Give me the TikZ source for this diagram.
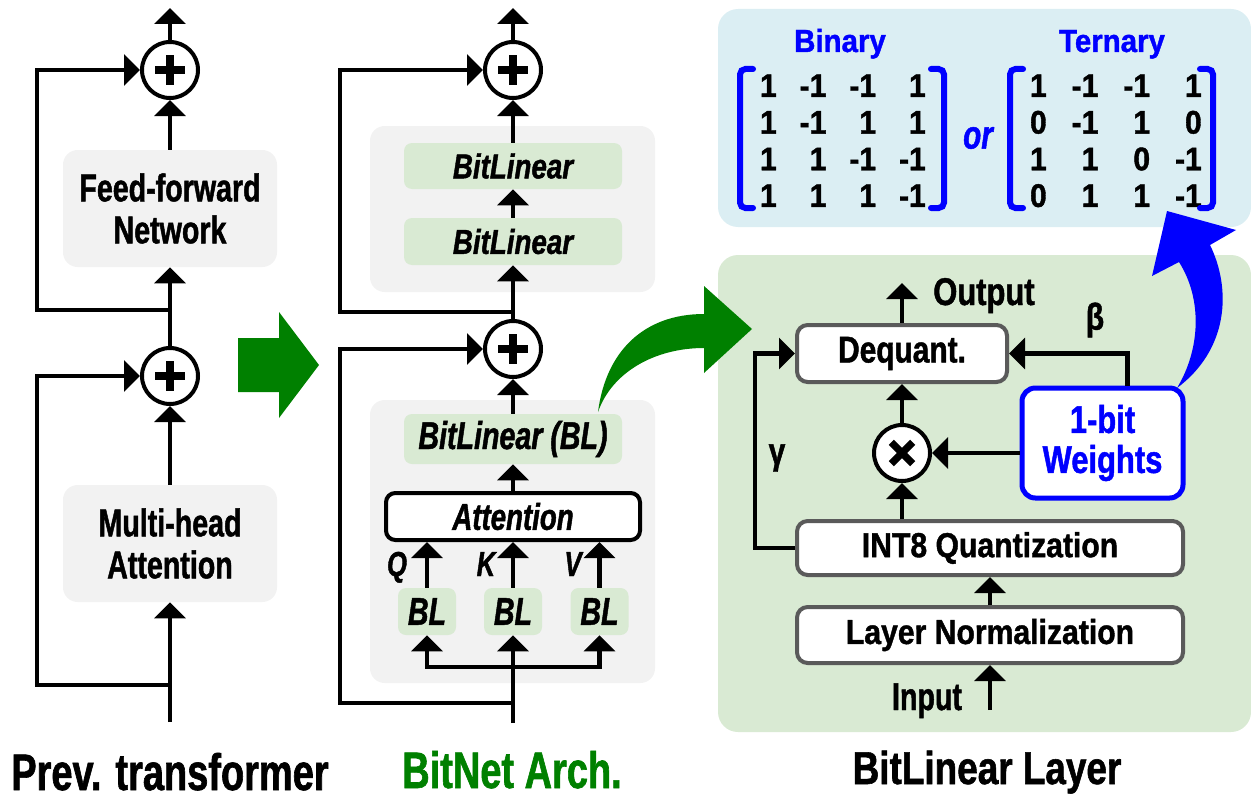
\documentclass[tikz,border=0pt]{standalone}
\usepackage{fontspec}
\usepackage{array}
\setmainfont{Liberation Sans}
\newfontfamily\fa{Liberation Sans}[FakeStretch=0.74,FakeBold=1.2]
\newfontfamily\fb{Liberation Sans}[FakeStretch=0.80,FakeBold=1.2]
\newfontfamily\fc{Liberation Sans}[FakeStretch=0.87,FakeBold=1.2]
\newfontfamily\fd{Liberation Sans}[FakeStretch=0.92,FakeBold=1.2]
\usetikzlibrary{arrows.meta,fit,calc}
\definecolor{lgrey}{HTML}{F2F2F2}
\definecolor{lgreen}{HTML}{D9EAD3}
\definecolor{lblue}{HTML}{DBEEF3}
\definecolor{dgreen}{HTML}{008000}
\definecolor{bblue}{HTML}{0000FF}
\definecolor{bordergrey}{HTML}{5A5A5A}
\newcommand\fsz[2]{\fontsize{#1}{#2}\selectfont}
\begin{document}
\begin{tikzpicture}[x=0.75pt,y=-0.75pt,
  arr/.style={line width=3.7pt,-{Triangle[width=23pt,length=12pt]}},
  greybg/.style={fill=lgrey, rounded corners=11pt, inner sep=0pt},
  greenbox/.style={fill=lgreen, rounded corners=6pt, inner sep=0pt},
  wbox/.style={draw=bordergrey, line width=3pt, fill=white, rounded corners=8pt, inner sep=0pt,
    font=\fc\bfseries\fsz{26}{28}},
  sumnode/.style={circle, draw, line width=3pt, fill=white, minimum size=42pt, inner sep=0pt},
  plus/.style={path picture={
    \draw[line width=6.5pt] ([xshift=-11pt]path picture bounding box.center) -- ([xshift=11pt]path picture bounding box.center);
    \draw[line width=6.5pt] ([yshift=-11pt]path picture bounding box.center) -- ([yshift=11pt]path picture bounding box.center);}},
  times/.style={path picture={
    \draw[line width=5.5pt] ([shift={(-8pt,-8pt)}]path picture bounding box.center) -- ([shift={(8pt,8pt)}]path picture bounding box.center);
    \draw[line width=5.5pt] ([shift={(-8pt,8pt)}]path picture bounding box.center) -- ([shift={(8pt,-8pt)}]path picture bounding box.center);}},
  lefttxt/.style={font=\fa\bfseries\fsz{29}{31.5}, align=center, minimum width=160.5pt, minimum height=87.75pt},
  bltxt/.style={font=\fb\bfseries\itshape\fsz{26}{28}, minimum width=163.5pt},
  smallbl/.style={greenbox, font=\fa\bfseries\itshape\fsz{29}{31}, minimum width=43.5pt, minimum height=35.25pt},
  brk/.style={draw=bblue, line width=4.5pt, rounded corners=4pt, line cap=round},
  title/.style={anchor=base, inner sep=0pt}
]
\useasboundingbox (0,0) rectangle (1251,799);

% ---------- panels ----------
\node[fit={(718,255) (1251,732)}, fill=lgreen, rounded corners=15pt, inner sep=0pt] (gpanel) {};
\node[fit={(718,9) (1251,227)}, fill=lblue, rounded corners=15pt, inner sep=0pt] (bpanel) {};

% ---------- left column ----------
\node[greybg, lefttxt] (ffn) at (170,208.5) {Feed-forward\\Network};
\node[greybg, lefttxt] (mha) at (170,543.5) {Multi-head\\Attention};
\node[sumnode, plus] (sL1) at (170,70) {};
\node[sumnode, plus] (sL2) at (170,376) {};
\coordinate (Lout) at (170,8);
\coordinate (Lin) at (170,722);
\coordinate (Lx) at (37,0);
\coordinate (Lj1) at (170,310);
\coordinate (Lj2) at (170,685);
\draw[arr] (Lin) -- (mha);
\draw[arr] (mha) -- (sL2);
\draw[arr] (sL2) -- (ffn);
\draw[arr] (ffn) -- (sL1);
\draw[arr] (sL1) -- (Lout);
\draw[arr] (Lj1) -| (Lx |- sL1) -- (sL1);
\draw[arr] (Lj2) -| (Lx |- sL2) -- (sL2);
\node[title, font=\fa\bfseries\fsz{38.5}{40}] (t1) at (170,790) {Prev. transformer};

% big green arrow
\fill[dgreen] (238,338) -- (279,338) -- (279,312) -- (319,365) -- (279,418) -- (279,392) -- (238,392) -- cycle;

% ---------- middle column ----------
\node[greybg, fit={(370,126) (655,292)}] (ffnM) {};
\node[greybg, fit={(370,400) (655,683)}] (attM) {};
\node[greenbox, bltxt, minimum height=34.5pt] (bl1) at (513,166) {BitLinear};
\node[greenbox, bltxt, minimum height=35.25pt] (bl2) at (513,241.5) {BitLinear};
\node[greenbox, font=\fa\bfseries\itshape\fsz{29}{31}, minimum width=163.5pt, minimum height=37.5pt] (blm) at (513,439) {BitLinear (BL)};
\node[draw, line width=3pt, fill=white, rounded corners=7pt, inner sep=0pt, minimum width=190.5pt, minimum height=35.25pt,
  font=\fa\bfseries\itshape\fsz{28}{30}] (att) at (513,516.5) {Attention};
\node[smallbl] (blq) at (427,611.5) {BL};
\node[smallbl] (blk) at (513,611.5) {BL};
\node[smallbl] (blv) at (599.5,611.5) {BL};
\node[title, font=\fa\bfseries\itshape\fsz{26}{28}] (lq) at (397,576) {Q};
\node[title, font=\fa\bfseries\itshape\fsz{26}{28}] (lk) at (486,576) {K};
\node[title, font=\fa\bfseries\itshape\fsz{26}{28}] (lv) at (573,576) {V};
\node[sumnode, plus] (sM1) at (513,70) {};
\node[sumnode, plus] (sM2) at (513,349) {};
\coordinate (Min) at (513,723);
\coordinate (Mf) at (513,667);
\coordinate (Mj2) at (513,703);
\coordinate (Mj1) at (513,312);
\coordinate (Mx) at (340,0);
\coordinate (Mout) at (513,8);
\draw[arr] (Min) -- (blk);
\draw[arr] (Mf) -| (blq);
\draw[arr] (Mf) -| (blv);
\draw[arr] (blq) -- (blq |- att.south);
\draw[arr] (blk) -- (blk |- att.south);
\draw[arr] (blv) -- (blv |- att.south);
\draw[arr] (att) -- (blm);
\draw[arr] (blm) -- (sM2);
\draw[arr] (sM2) -- (bl2);
\draw[arr] (bl2) -- (bl1);
\draw[arr] (bl1) -- (sM1);
\draw[arr] (sM1) -- (Mout);
\draw[arr] (Mj1) -| (Mx |- sM1) -- (sM1);
\draw[arr] (Mj2) -| (Mx |- sM2) -- (sM2);
\node[title, font=\fa\bfseries\fsz{38.5}{40}, text=dgreen] (t2) at (512,788) {BitNet Arch.};

% green curved arrow
\fill[dgreen] (598,412) .. controls (606,350) and (645,314) .. (704,314) -- (704,286) -- (752,329) -- (704,373) -- (704,348) .. controls (655,348) and (612,372) .. (598,412) -- cycle;

% ---------- right: BitLinear layer ----------
\fill[bblue] (1177,388) .. controls (1200,350) and (1203,300) .. (1179,262) -- (1152,276) -- (1167,211) -- (1236,230) -- (1210,245) .. controls (1232,290) and (1228,350) .. (1177,388) -- cycle;
\node[wbox, font=\fb\bfseries\fsz{28}{30}, minimum width=157.5pt, minimum height=42.75pt] (deq) at (902,353.5) {Dequant.};
\node[draw=bblue, line width=3.75pt, fill=white, rounded corners=10pt, inner sep=0pt, minimum width=120.75pt, minimum height=82.5pt,
  text=bblue, align=center, font=\fb\bfseries\fsz{29}{30}] (wts) at (1102.5,443) {1-bit\\Weights};
\node[wbox, minimum width=289.5pt, minimum height=40.5pt] (int8) at (990,548) {INT8 Quantization};
\node[wbox, minimum width=289.5pt, minimum height=42pt] (ln) at (990,635) {Layer Normalization};
\node[sumnode, times] (mul) at (902,453) {};
\coordinate (Rout) at (902,283);
\coordinate (Rin) at (990,710);
\coordinate (gx) at (755,0);
\draw[arr] (Rin) -- (ln);
\draw[arr] (ln) -- (int8);
\draw[arr] (mul |- int8.north) -- (mul);
\draw[arr] (mul) -- (deq);
\draw[arr] (deq) -- (Rout);
\draw[arr] (mul -| wts.west) -- (mul);
\draw[arr] ([xshift=18.4pt]wts.north) |- (deq.east);
\draw[arr] (int8.west) -| (gx |- deq.west) -- (deq.west);
\node[anchor=base west, inner sep=0pt, font=\fb\bfseries\fsz{29}{31}] (outl) at (933,305) {Output};
\node[font=\fb\bfseries\fsz{28}{30}] (beta) at (1095,320) {β};
\node[font=\fb\bfseries\fsz{28}{30}] (gam) at (777,458) {γ};
\node[title, font=\fa\bfseries\fsz{29}{31}] (inl) at (927,710) {Input};
\node[title, font=\fb\bfseries\fsz{34.6}{36}] (t3) at (987,784) {BitLinear Layer};

% ---------- matrices ----------
\node[title, font=\fd\bfseries\fsz{24}{26}, text=bblue] (bint) at (840,52) {Binary};
\node[title, font=\fd\bfseries\fsz{24}{26}, text=bblue] (tert) at (1112,52) {Ternary};
\node[anchor=north east, inner sep=0pt, font=\fd\bfseries\fsz{24.5}{27.5}] (binm) at (926,71)
  {\setlength\tabcolsep{0pt}\begin{tabular}{*{4}{w{r}{37.25pt}}}
   1&-1&-1&1\\ 1&-1&1&1\\ 1&1&-1&-1\\ 1&1&1&-1\end{tabular}};
\node[anchor=north east, inner sep=0pt, font=\fd\bfseries\fsz{24.5}{27.5}] (term) at (1202,71)
  {\setlength\tabcolsep{0pt}\begin{tabular}{*{4}{w{r}{38.75pt}}}
   1&-1&-1&1\\ 0&-1&1&0\\ 1&1&0&-1\\ 0&1&1&-1\end{tabular}};
\node[font=\fa\bfseries\itshape\fsz{30}{32}, text=bblue] (orl) at (978,138) {or};
\draw[brk] (753,69) -- (740,69) -- (740,208) -- (753,208);
\draw[brk] (931,69) -- (944,69) -- (944,208) -- (931,208);
\draw[brk] (1023,69) -- (1010,69) -- (1010,208) -- (1023,208);
\draw[brk] (1200,69) -- (1213,69) -- (1213,208) -- (1200,208);
\end{tikzpicture}
\end{document}
